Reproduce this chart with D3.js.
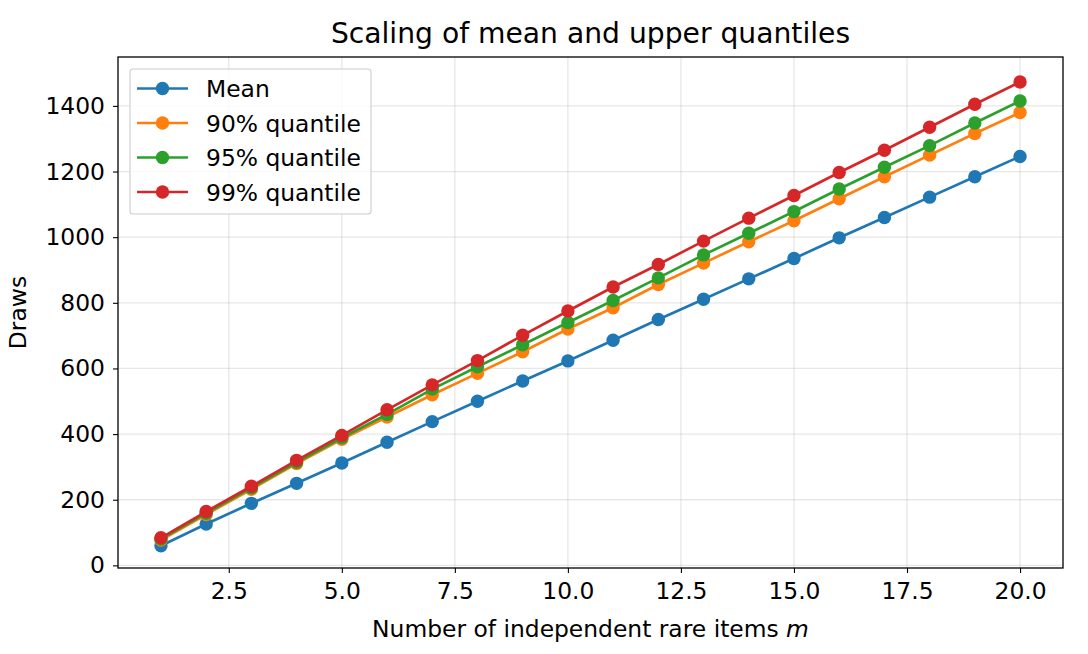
<!DOCTYPE html>
<meta charset="utf-8">
<style>
body{margin:0;background:#fff;}
text{font-family:"DejaVu Sans",sans-serif;fill:#000;}
</style>
<body>
<script src="https://d3js.org/d3.v7.min.js"></script>
<script>
var m = d3.range(1, 21);
var meanDraws = [60, 126, 189, 250, 312, 375, 438, 500, 562, 623, 686, 749, 811, 873, 935, 998, 1060, 1122, 1184, 1246];
var q90 = [77, 155, 232, 310, 384, 452, 520, 585, 651, 720, 785, 856, 921, 986, 1050, 1117, 1184, 1250, 1316, 1380];
var q95 = [80, 159, 236, 314, 389, 460, 537, 605, 672, 740, 807, 876, 946, 1012, 1078, 1147, 1213, 1279, 1348, 1415];
var q99 = [84, 164, 241, 320, 396, 474, 550, 624, 701, 775, 848, 917, 988, 1058, 1127, 1197, 1265, 1335, 1405, 1473];
var seriesNames = ["Mean", "90% quantile", "95% quantile", "99% quantile"];
var colors = ["#1f77b4", "#ff7f0e", "#2ca02c", "#d62728"];
var xTicks = [2.5, 5.0, 7.5, 10.0, 12.5, 15.0, 17.5, 20.0];
var yTicks = [0, 200, 400, 600, 800, 1000, 1200, 1400];

var w = 1088, h = 654;
var pl = 118, pr = 1063, pt = 57, pb = 568;
var fs = 23.4;

var svg = d3.select("body").append("svg")
  .attr("width", w).attr("height", h);

var x = d3.scaleLinear().domain([0.05, 20.95]).range([pl, pr]);
var y = d3.scaleLinear().domain([-8, 1549]).range([pb, pt]);

// grid
svg.append("g").selectAll("line").data(xTicks).enter().append("line")
  .attr("x1", d => x(d)).attr("x2", d => x(d))
  .attr("y1", pt).attr("y2", pb)
  .attr("stroke", "#b0b0b0").attr("stroke-opacity", 0.3).attr("stroke-width", 1.3);
svg.append("g").selectAll("line").data(yTicks).enter().append("line")
  .attr("x1", pl).attr("x2", pr)
  .attr("y1", d => y(d)).attr("y2", d => y(d))
  .attr("stroke", "#b0b0b0").attr("stroke-opacity", 0.3).attr("stroke-width", 1.3);

// lines + markers
var all = [meanDraws, q90, q95, q99];
var line = d3.line().x((d, i) => x(m[i])).y(d => y(d));
all.forEach(function(s, k) {
  var g = svg.append("g");
  g.append("path").datum(s)
    .attr("d", line)
    .attr("fill", "none")
    .attr("stroke", colors[k])
    .attr("stroke-width", 2.7);
  g.selectAll("circle").data(s).enter().append("circle")
    .attr("cx", (d, i) => x(m[i]))
    .attr("cy", d => y(d))
    .attr("r", 6.7)
    .attr("fill", colors[k]);
});

// axes
var xAxis = svg.append("g")
  .attr("transform", "translate(0," + pb + ")")
  .call(d3.axisBottom(x).tickValues(xTicks).tickFormat(d3.format(".1f")).tickSizeOuter(0).tickSize(5).tickPadding(9));
var yAxis = svg.append("g")
  .attr("transform", "translate(" + pl + ",0)")
  .call(d3.axisLeft(y).tickValues(yTicks).tickFormat(d3.format("d")).tickSizeOuter(0).tickSize(5).tickPadding(8));
[xAxis, yAxis].forEach(function(a) {
  a.select(".domain").remove();
  a.selectAll("line").attr("stroke", "#000").attr("stroke-width", 1.1);
  a.selectAll("text").attr("font-family", "DejaVu Sans").attr("font-size", fs).attr("fill", "#000");
});

// frame
svg.append("rect")
  .attr("x", pl).attr("y", pt)
  .attr("width", pr - pl).attr("height", pb - pt)
  .attr("fill", "none").attr("stroke", "#000").attr("stroke-width", 1.3);

// title and labels
svg.append("text")
  .attr("x", (pl + pr) / 2).attr("y", 43)
  .attr("text-anchor", "middle").attr("font-size", 28.2)
  .text("Scaling of mean and upper quantiles");

var xl = svg.append("text")
  .attr("x", (pl + pr) / 2).attr("y", 637)
  .attr("text-anchor", "middle").attr("font-size", fs);
xl.append("tspan").text("Number of independent rare items ");
xl.append("tspan").attr("font-style", "italic").text("m");

svg.append("text")
  .attr("transform", "translate(26," + ((pt + pb) / 2) + ") rotate(-90)")
  .attr("text-anchor", "middle").attr("font-size", fs)
  .text("Draws");

// legend
var leg = svg.append("g");
leg.append("rect")
  .attr("x", 130).attr("y", 69).attr("width", 241).attr("height", 145)
  .attr("rx", 3).attr("fill", "#fff").attr("fill-opacity", 0.8)
  .attr("stroke", "#cccccc").attr("stroke-width", 1.1);
seriesNames.forEach(function(name, k) {
  var cy = 88.5 + k * 34.5;
  leg.append("line")
    .attr("x1", 137).attr("x2", 188).attr("y1", cy).attr("y2", cy)
    .attr("stroke", colors[k]).attr("stroke-width", 2.7);
  leg.append("circle").attr("cx", 162.5).attr("cy", cy).attr("r", 6.7).attr("fill", colors[k]);
  leg.append("text").attr("x", 206).attr("y", cy + 8.5).attr("font-size", fs).text(name);
});
</script>
</body>
